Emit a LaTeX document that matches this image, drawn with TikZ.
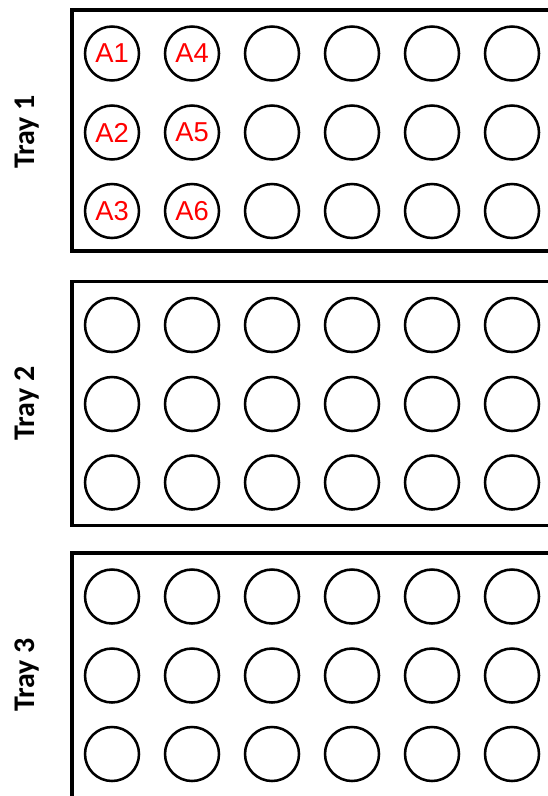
\documentclass[tikz,border=0pt]{standalone}
\usepackage{fontspec}
\setmainfont{Liberation Sans}
\newfontfamily\trayfont{Carlito}
\begin{document}
\begin{tikzpicture}[x=0.75pt,y=-0.75pt,
  tray/.style={draw=black,line width=2.6pt},
  well/.style={circle,draw=black,line width=1.9pt,minimum size=40.5pt,inner sep=0pt,
    text=red,font=\fontsize{20.5}{21}\selectfont},
  traylabel/.style={rotate=90,anchor=base,inner sep=0pt,
    font=\trayfont\bfseries\fontsize{22.5}{24}\selectfont}]
\clip (0,0) rectangle (548,796);
\foreach \t/\ty/\h in {1/10/241,2/281.5/244,3/553/247}{
  \draw[tray] (72,\ty) rectangle (580,\ty+\h);
  \node[traylabel] (label\t) at (34,\ty+122) {Tray \t};
  \foreach \r/\dy in {1/43.5,2/122.5,3/201}{
    \foreach \c in {1,...,6}{
      \pgfmathtruncatemacro\n{(\c-1)*3+\r}
      \node[well] (w\t-\r-\c) at ({32+80*\c},\ty+\dy)
        {\ifnum\t=1 \ifnum\c<3 A\n\fi\fi};
    }
  }
}
\end{tikzpicture}
\end{document}
